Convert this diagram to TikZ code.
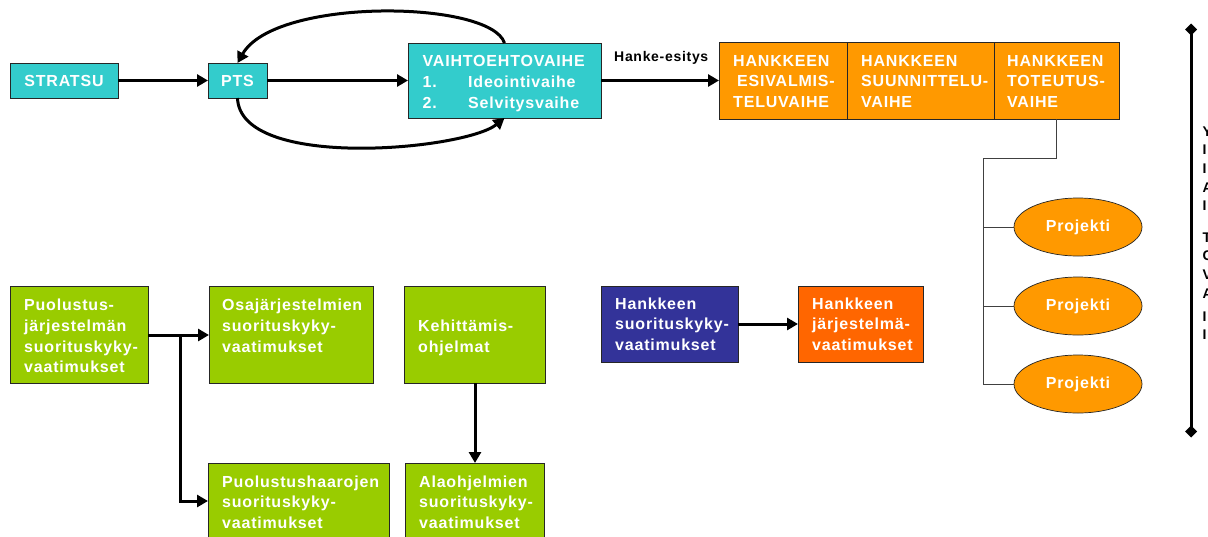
\documentclass[tikz,border=0pt]{standalone}
\usepackage{fontspec}
\setmainfont{Liberation Sans}[LetterSpace=5]
\usetikzlibrary{arrows.meta,shapes.geometric}
\definecolor{cteal}{HTML}{33CCCC}
\definecolor{corange}{HTML}{FF9900}
\definecolor{cgreen}{HTML}{99CC00}
\definecolor{cnavy}{HTML}{333399}
\definecolor{cred}{HTML}{FF6600}
\newcommand\tlines[1]{\begin{tabular}[t]{@{}l@{}}#1\end{tabular}}
\tikzset{
  box/.style={draw=black!85, line width=0.7pt, anchor=north west, inner sep=0pt, outer sep=0pt},
  boxfont/.style={font=\fontsize{16}{20.8}\selectfont\bfseries},
  txt/.style={text=white, boxfont, inner sep=0pt, anchor=base west},
  conn/.style={line width=3pt, -{Triangle[length=11pt,width=12pt]}},
  thinline/.style={line width=0.8pt, draw=black!75},
  ell/.style={ellipse, draw=black!85, line width=0.7pt, fill=corange, minimum width=128pt, minimum height=58pt, inner sep=0pt, text=white, font=\fontsize{16}{18}\selectfont\bfseries},
  sidetxt/.style={inner sep=0pt, anchor=base west, font=\fontsize{14}{18.7}\selectfont\bfseries},
}
\begin{document}
\begin{tikzpicture}[x=1pt,y=-1pt]
\useasboundingbox (0,0) rectangle (1208,536);
\clip (0,0) rectangle (1208,536);

% ---- top row
\node[box, fill=cteal, minimum width=108pt, minimum height=35pt, text=white, boxfont, anchor=center] (stratsu) at (64,80.5) {STRATSU};
\node[box, fill=cteal, minimum width=59pt, minimum height=35pt, text=white, boxfont, anchor=center] (pts) at (237.5,80.5) {PTS};
\node[box, fill=cteal, minimum width=193pt, minimum height=75pt] (vaihto) at (408,43) {};
\node[txt] (vaihtot) at (422.5,66.7) {\tlines{VAIHTOEHTOVAIHE\\\makebox[45.5pt][l]{1.}Ideointivaihe\\\makebox[45.5pt][l]{2.}Selvitysvaihe}};

\node[box, fill=corange, minimum width=128pt, minimum height=77pt] (esi) at (719,42) {};
\node[box, fill=corange, minimum width=147pt, minimum height=77pt] (suun) at (847,42) {};
\node[box, fill=corange, minimum width=125pt, minimum height=77pt] (tot) at (994,42) {};
\node[txt] (esit) at (733,66) {\tlines{HANKKEEN\\\hspace*{4pt}ESIVALMIS-\\TELUVAIHE}};
\node[txt] (suunt) at (861,66) {\tlines{HANKKEEN\\SUUNNITTELU-\\VAIHE}};
\node[txt] (tott) at (1007,66) {\tlines{HANKKEEN\\TOTEUTUS-\\VAIHE}};

\node[inner sep=0pt, anchor=base west, font=\fontsize{14}{16}\selectfont\bfseries] (hanke) at (614,61.7) {Hanke-esitys};

\draw[conn] (stratsu.east) -- (pts.west);
\draw[conn] (pts.east) -- (vaihto.west);
\draw[conn] (vaihto.east) -- (esi.west);
\draw[conn] (vaihto.north) .. controls +(-14,-43) and +(37.5,-66) .. (pts.north);
\draw[conn] (pts.south) .. controls +(2.5,73) and +(-39.5,32) .. (vaihto.south);

% ---- projects
\node[ell] (p1) at (1078,227) {Projekti};
\node[ell] (p2) at (1078,306) {Projekti};
\node[ell] (p3) at (1078,384) {Projekti};
\coordinate (bend) at (983,158);
\draw[thinline] (tot.south) |- (bend) |- (p3.west);
\draw[thinline] (bend |- p1.west) -- (p1.west);
\draw[thinline] (bend |- p2.west) -- (p2.west);

% ---- side bar
\coordinate (dtop) at (1191,23.5);
\coordinate (dbot) at (1191,437.5);
\draw[line width=3pt, {Diamond[length=12pt,width=12pt]}-{Diamond[length=12pt,width=12pt]}] (dtop) -- (dbot);
\node[sidetxt] (side1) at (1202.5,136) {\tlines{Y\\I\\I\\A\\I}};
\node[sidetxt] (side2) at (1202.5,242) {\tlines{T\\C\\V\\A}};
\node[sidetxt] (side3) at (1202.5,321) {\tlines{I\\I}};

% ---- bottom
\node[box, fill=cgreen, minimum width=138pt, minimum height=97pt] (puol) at (10,286) {};
\node[txt] (puolt) at (24,310.5) {\tlines{Puolustus-\\järjestelmän\\suorituskyky-\\vaatimukset}};
\node[box, fill=cgreen, minimum width=164pt, minimum height=97pt] (osa) at (209,286) {};
\node[txt] (osat) at (222,310.5) {\tlines{Osajärjestelmien\\suorituskyky-\\vaatimukset}};
\node[box, fill=cgreen, minimum width=141pt, minimum height=97pt] (keh) at (404,286) {};
\node[txt] (keht) at (418,331.5) {\tlines{Kehittämis-\\ohjelmat}};
\node[box, fill=cgreen, minimum width=181pt, minimum height=90pt] (haar) at (208,463) {};
\node[txt] (haart) at (222,487) {\tlines{Puolustushaarojen\\suorituskyky-\\vaatimukset}};
\node[box, fill=cgreen, minimum width=139pt, minimum height=90pt] (ala) at (405.5,463) {};
\node[txt] (alat) at (419,487) {\tlines{Alaohjelmien\\suorituskyky-\\vaatimukset}};

\node[box, fill=cnavy, minimum width=137pt, minimum height=76pt] (hsk) at (601,286) {};
\node[txt] (hskt) at (615,309) {\tlines{Hankkeen\\suorituskyky-\\vaatimukset}};
\node[box, fill=cred, minimum width=125pt, minimum height=76pt] (hjv) at (798,286) {};
\node[txt] (hjvt) at (812,309) {\tlines{Hankkeen\\järjestelmä-\\vaatimukset}};

\coordinate (split) at (180,335);
\draw[conn] (puol.east |- split) -- (osa.west |- split);
\draw[conn] (split) |- (haar.west |- 0,501);
\draw[conn] (keh.south -| 475,0) -- (ala.north -| 475,0);
\draw[conn] (hsk.east) -- (hjv.west);
\end{tikzpicture}
\end{document}
